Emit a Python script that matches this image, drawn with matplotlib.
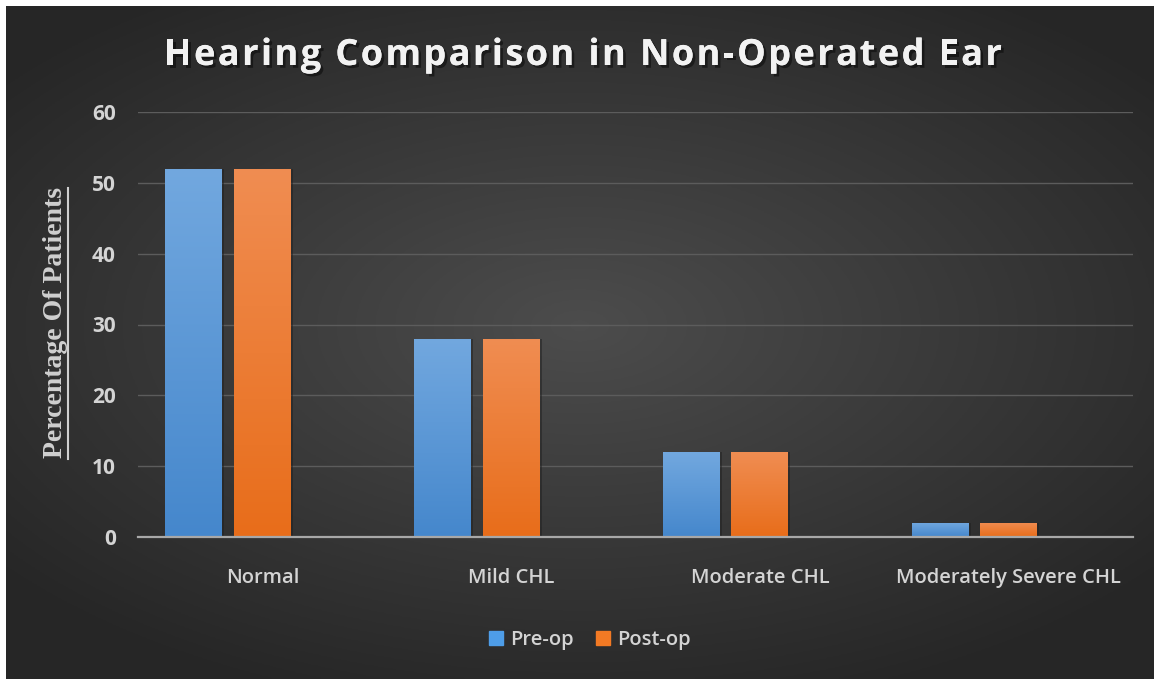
import matplotlib
matplotlib.use("Agg")
import matplotlib.pyplot as plt
import matplotlib.patheffects as pe
import numpy as np
from matplotlib.colors import LinearSegmentedColormap
from matplotlib.lines import Line2D
from matplotlib.patches import Patch

categories = ["Normal", "Mild CHL", "Moderate CHL", "Moderately Severe CHL"]
pre_op = [52, 28, 12, 2]
post_op = [52, 28, 12, 2]
series_names = ["Pre-op", "Post-op"]
y_ticks = [0, 10, 20, 30, 40, 50, 60]
title = "Hearing Comparison in Non-Operated Ear"

W, H = 1154, 679
fig = plt.figure(figsize=(W / 100, H / 100), dpi=100)
fig.patch.set_facecolor("white")

# radial dark background, lighter toward the middle
bg = fig.add_axes([6 / W, 0, 1 - 6 / W, 1 - 6 / H])
gx, gy = np.meshgrid(np.linspace(-1, 1, 400), np.linspace(-1, 1, 240))
r = np.sqrt((gx * 1.0) ** 2 + ((gy + 0.05) * 1.1) ** 2)
shade = 0.30 - 0.15 * np.clip(r, 0, 1.3) / 1.3
bg.imshow(np.dstack([shade] * 3), aspect="auto", extent=(0, 1, 0, 1))
bg.set_axis_off()

ax = fig.add_axes([138 / W, 1 - 537 / H, (1133 - 138) / W, (537 - 112) / H])
ax.set_facecolor("none")

x = np.arange(len(categories))
width = 0.229
blue_cmap = LinearSegmentedColormap.from_list("b", ["#4587cc", "#72a8df"])
orange_cmap = LinearSegmentedColormap.from_list("o", ["#e86d1a", "#f08d52"])

grad = np.linspace(0, 1, 256).reshape(-1, 1)
for values, offset, cmap in [(pre_op, -0.275, blue_cmap), (post_op, 0.0, orange_cmap)]:
    bars = ax.bar(x + offset, values, width, color="none", zorder=3)
    for b in bars:
        bx, by = b.get_x(), b.get_y()
        bw, bh = b.get_width(), b.get_height()
        ax.bar(bx + bw / 2 + 0.008, bh, bw, bottom=by, color="#202020", alpha=0.5, zorder=2)
        im = ax.imshow(grad, cmap=cmap, origin="lower", aspect="auto",
                       extent=(bx, bx + bw, by, by + bh), zorder=3)
        im.set_clip_path(b)
ax.set_xlim(-0.5, 3.5)
ax.set_ylim(0, 60)

ax.set_yticks(y_ticks)
ax.yaxis.grid(True, color="#5c5c5c", lw=1)
ax.set_axisbelow(True)
ax.tick_params(axis="y", length=0, pad=16, labelsize=15, labelcolor="#d4d4d4")
for lab in ax.get_yticklabels():
    lab.set_fontfamily("Open Sans")
    lab.set_fontweight("bold")
ax.set_xticks(x)
ax.set_xticklabels(categories, fontfamily="Open Sans", fontsize=14.5, fontweight=600,
                   color="#d4d4d4")
ax.tick_params(axis="x", length=0, pad=22)
for s in ["top", "right", "left"]:
    ax.spines[s].set_visible(False)
ax.spines["bottom"].set_color("#a8a8a8")
ax.spines["bottom"].set_linewidth(1.6)
ax.spines["bottom"].set_zorder(4)

# letter-spaced title, placed character by character
renderer = fig.canvas.get_renderer()
tkw = dict(fontsize=26, fontweight="bold", family="Open Sans", color="#f2f2f2", va="center",
           path_effects=[pe.withSimplePatchShadow(offset=(2, -2), shadow_rgbFace="black", alpha=0.45),
                         pe.Normal()])
spacing = 2.4
probe = fig.text(0, 0, title, **tkw)
full_w = probe.get_window_extent(renderer).width
probe.remove()
start = 583 - (full_w + spacing * (len(title) - 1)) / 2
bar = fig.text(0, 0, "|", **tkw)
barw = bar.get_window_extent(renderer).width
bar.remove()
for i, ch in enumerate(title):
    if ch == " ":
        continue
    p = fig.text(0, 0, title[:i] + "|", **tkw)
    pw = p.get_window_extent(renderer).width
    p.remove()
    xp = start + pw - barw + spacing * i
    fig.text(xp / W, 1 - 56 / H, ch, ha="left", **tkw)

ylab = fig.text(56 / W, 1 - 323 / H, "Percentage Of Patients", rotation=90,
                ha="center", va="center", fontsize=20, family="Liberation Serif",
                fontweight="bold", color="#d0d0d0")
fig.canvas.draw()
bb = ylab.get_window_extent(fig.canvas.get_renderer()).transformed(fig.transFigure.inverted())
fig.add_artist(Line2D([68 / W, 68 / W], [bb.y0, bb.y1],
                      transform=fig.transFigure, color="#d0d0d0", lw=1.5))

handles = [Patch(color="#4e9de8"), Patch(color="#f37a24")]
fig.legend(handles, series_names, loc="center", bbox_to_anchor=(590 / W, 1 - 640 / H),
           ncol=2, frameon=False, handlelength=0.7, handleheight=0.7, handletextpad=0.35,
           columnspacing=1.1, prop={"family": "Open Sans", "size": 14.5, "weight": 600},
           labelcolor="#d4d4d4")

fig.savefig("out.png", dpi=100, facecolor="white")
